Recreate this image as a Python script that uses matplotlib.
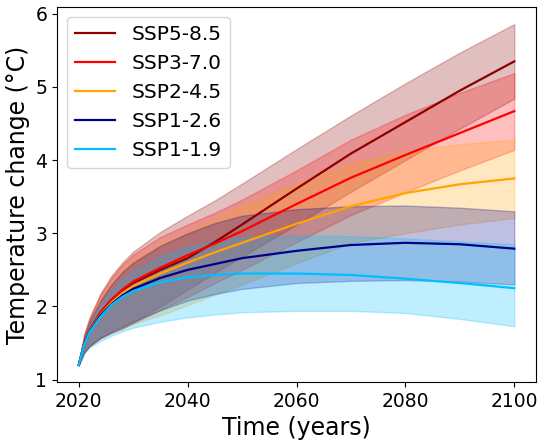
import matplotlib
matplotlib.use("Agg")
import matplotlib.pyplot as plt
import numpy as np

years = [2020, 2021, 2022, 2024, 2026, 2028, 2030, 2035, 2040, 2045, 2050, 2060, 2070, 2080, 2090, 2100]

# SSP5-8.5
ssp585_mean = [1.20, 1.50, 1.68, 1.92, 2.09, 2.22, 2.32, 2.50, 2.66, 2.88, 3.12, 3.61, 4.09, 4.52, 4.95, 5.35]
ssp585_low = [1.20, 1.37, 1.46, 1.57, 1.64, 1.70, 1.78, 2.00, 2.23, 2.46, 2.68, 3.12, 3.57, 4.00, 4.43, 4.84]
ssp585_high = [1.20, 1.62, 1.85, 2.18, 2.42, 2.60, 2.75, 3.02, 3.24, 3.45, 3.68, 4.15, 4.61, 5.05, 5.47, 5.86]

# SSP3-7.0
ssp370_mean = [1.20, 1.50, 1.68, 1.92, 2.09, 2.23, 2.34, 2.53, 2.70, 2.86, 3.03, 3.40, 3.76, 4.07, 4.37, 4.67]
ssp370_low = [1.20, 1.37, 1.46, 1.57, 1.64, 1.70, 1.77, 1.95, 2.13, 2.32, 2.50, 2.88, 3.25, 3.56, 3.86, 4.14]
ssp370_high = [1.20, 1.62, 1.84, 2.16, 2.39, 2.57, 2.71, 2.95, 3.12, 3.28, 3.46, 3.86, 4.28, 4.62, 4.92, 5.19]

# SSP2-4.5
ssp245_mean = [1.20, 1.49, 1.67, 1.89, 2.05, 2.18, 2.28, 2.45, 2.60, 2.74, 2.87, 3.13, 3.37, 3.55, 3.67, 3.75]
ssp245_low = [1.20, 1.37, 1.46, 1.57, 1.64, 1.70, 1.76, 1.88, 2.02, 2.16, 2.30, 2.59, 2.87, 3.00, 3.12, 3.21]
ssp245_high = [1.20, 1.60, 1.82, 2.12, 2.34, 2.51, 2.64, 2.86, 3.02, 3.20, 3.37, 3.68, 3.96, 4.12, 4.22, 4.28]

# SSP1-2.6
ssp126_mean = [1.20, 1.49, 1.66, 1.88, 2.03, 2.15, 2.24, 2.39, 2.50, 2.58, 2.66, 2.76, 2.84, 2.87, 2.85, 2.79]
ssp126_low = [1.20, 1.37, 1.46, 1.57, 1.65, 1.72, 1.79, 1.95, 2.08, 2.17, 2.24, 2.32, 2.35, 2.36, 2.34, 2.30]
ssp126_high = [1.20, 1.58, 1.80, 2.08, 2.30, 2.47, 2.60, 2.83, 3.00, 3.14, 3.24, 3.33, 3.37, 3.38, 3.35, 3.30]

# SSP1-1.9
ssp119_mean = [1.20, 1.48, 1.65, 1.86, 2.02, 2.13, 2.21, 2.33, 2.40, 2.43, 2.45, 2.45, 2.43, 2.38, 2.32, 2.25]
ssp119_low = [1.20, 1.36, 1.44, 1.53, 1.60, 1.66, 1.71, 1.79, 1.85, 1.89, 1.92, 1.94, 1.94, 1.91, 1.83, 1.73]
ssp119_high = [1.20, 1.56, 1.76, 2.02, 2.22, 2.37, 2.49, 2.69, 2.82, 2.90, 2.95, 2.97, 2.96, 2.93, 2.89, 2.85]

labels = ["SSP5-8.5", "SSP3-7.0", "SSP2-4.5", "SSP1-2.6", "SSP1-1.9"]
colors = ["darkred", "red", "orange", "darkblue", "deepskyblue"]
means = [ssp585_mean, ssp370_mean, ssp245_mean, ssp126_mean, ssp119_mean]
lows = [ssp585_low, ssp370_low, ssp245_low, ssp126_low, ssp119_low]
highs = [ssp585_high, ssp370_high, ssp245_high, ssp126_high, ssp119_high]

fig = plt.figure(figsize=(5.45, 4.44), dpi=100)
ax = fig.add_axes([0.1046, 0.1396, 0.879, 0.8446])

for lab, c, m, lo, hi in zip(labels, colors, means, lows, highs):
    ax.fill_between(years, lo, hi, color=c, alpha=0.25)
    ax.plot(years, m, color=c, lw=1.6, label=lab)

ax.set_xlabel("Time (years)", fontsize=17)
ax.set_ylabel("Temperature change (°C)", fontsize=17)
ax.set_xticks([2020, 2040, 2060, 2080, 2100])
ax.set_yticks([1, 2, 3, 4, 5, 6])
ax.tick_params(labelsize=13.5)
ax.legend(loc="upper left", fontsize=14.5)

fig.savefig("out.png", dpi=100)
